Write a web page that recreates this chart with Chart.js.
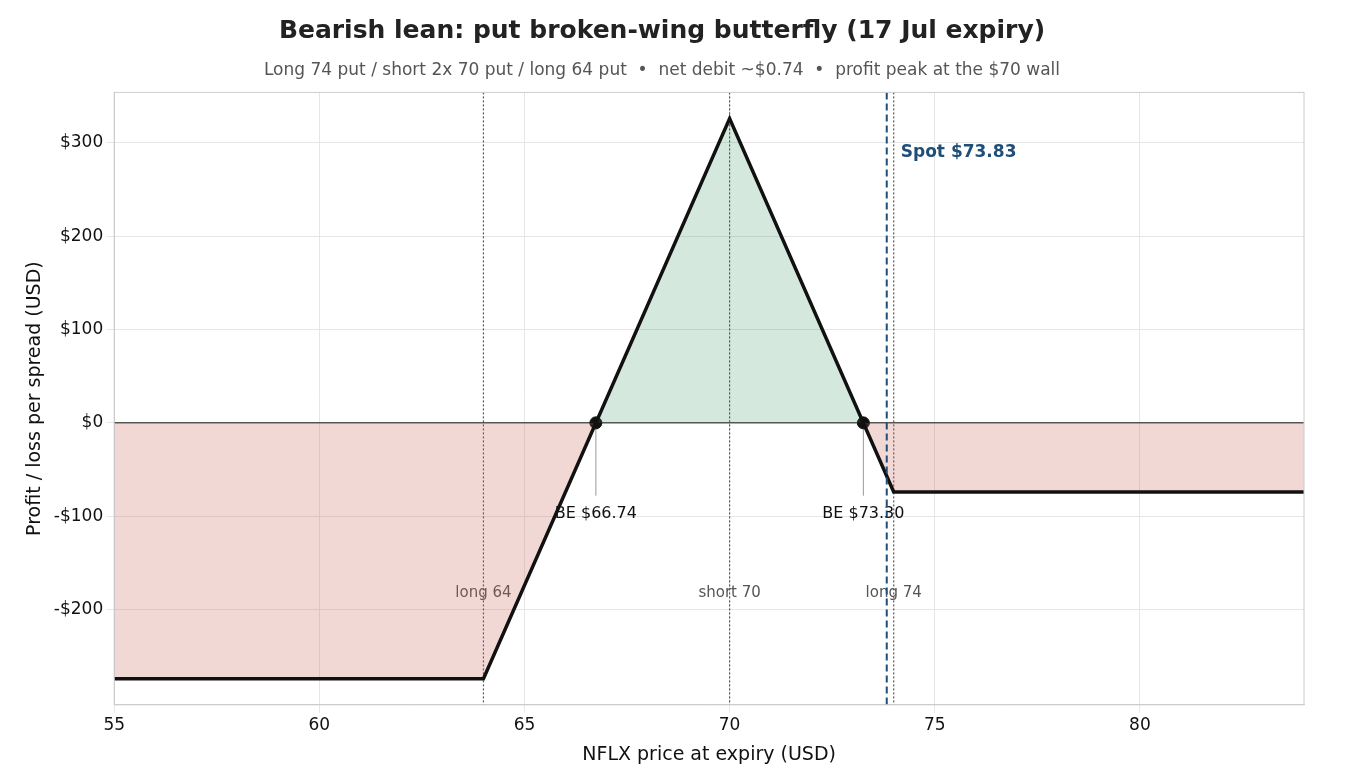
<!DOCTYPE html>
<html><head><meta charset="utf-8">
<script src="https://cdn.jsdelivr.net/npm/chart.js@4/dist/chart.umd.min.js"></script>
<style>html,body{margin:0;background:#fff}</style>
</head><body><canvas id="c" width="1350" height="780" style="width:1350px;height:780px;display:block"></canvas>
<script>
const priceX = [55, 64, 70, 74, 84];
const pnl = [-274, -274, 326, -74, -74];
const breakevenX = [66.74, 73.26];
const breakevenLabels = ["BE $66.74", "BE $73.30"];
const strikes = [64, 70, 74];
const strikeLabels = ["long 64", "short 70", "long 74"];
const spot = 73.83;
const F = "'DejaVu Sans', sans-serif";

const overlay = {
  id: 'overlay',
  beforeDatasetsDraw(ch) {
    const {ctx, scales: {x, y}, chartArea: a} = ch;
    ctx.save();
    ctx.strokeStyle = '#555'; ctx.lineWidth = 1.5;
    ctx.beginPath(); ctx.moveTo(a.left, y.getPixelForValue(0)); ctx.lineTo(a.right, y.getPixelForValue(0)); ctx.stroke();
    ctx.strokeStyle = '#555'; ctx.lineWidth = 1.2; ctx.setLineDash([2, 2]);
    strikes.forEach(s => { const px = x.getPixelForValue(s); ctx.beginPath(); ctx.moveTo(px, a.top); ctx.lineTo(px, a.bottom); ctx.stroke(); });
    ctx.setLineDash([]);
    ctx.font = '15px ' + F; ctx.fillStyle = '#555'; ctx.textAlign = 'center'; ctx.textBaseline = 'middle';
    strikes.forEach((s, i) => ctx.fillText(strikeLabels[i], x.getPixelForValue(s), y.getPixelForValue(-182)));
    ctx.strokeStyle = '#999'; ctx.lineWidth = 1;
    breakevenX.forEach(b => { const px = x.getPixelForValue(b); ctx.beginPath(); ctx.moveTo(px, y.getPixelForValue(0)); ctx.lineTo(px, y.getPixelForValue(-78)); ctx.stroke(); });
    ctx.restore();
  },
  afterDatasetsDraw(ch) {
    const {ctx, scales: {x, y}, chartArea: a} = ch;
    ctx.save();
    const sp = x.getPixelForValue(spot);
    ctx.strokeStyle = '#1f4e79'; ctx.lineWidth = 2; ctx.setLineDash([7, 4]);
    ctx.beginPath(); ctx.moveTo(sp, a.top); ctx.lineTo(sp, a.bottom); ctx.stroke();
    ctx.setLineDash([]);
    ctx.font = 'bold 17px ' + F; ctx.fillStyle = '#1f4e79'; ctx.textAlign = 'left'; ctx.textBaseline = 'middle';
    ctx.fillText('Spot $' + spot.toFixed(2), sp + 14, y.getPixelForValue(290));
    ctx.font = '16px ' + F; ctx.fillStyle = '#111'; ctx.textAlign = 'center';
    breakevenX.forEach((b, i) => ctx.fillText(breakevenLabels[i], x.getPixelForValue(b), y.getPixelForValue(-97)));
    ctx.strokeStyle = '#ccc'; ctx.lineWidth = 1;
    ctx.strokeRect(a.left, a.top, a.right - a.left, a.bottom - a.top);
    ctx.restore();
  }
};

new Chart(document.getElementById('c'), {
  type: 'scatter',
  data: { datasets: [
    { type: 'line', data: priceX.map((v, i) => ({x: v, y: pnl[i]})), borderColor: '#111', borderWidth: 3.5, pointRadius: 0,
      fill: {target: 'origin', above: 'rgba(46,139,87,0.2)', below: 'rgba(200,100,85,0.25)'} },
    { data: breakevenX.map(v => ({x: v, y: 0})), pointRadius: 6, backgroundColor: '#111', borderColor: '#111' }
  ]},
  options: {
    responsive: false, animation: false, devicePixelRatio: 1,
    layout: { padding: {left: 20, right: 46, top: 0, bottom: 10} },
    plugins: {
      legend: {display: false}, tooltip: {enabled: false},
      title: { display: true, text: 'Bearish lean: put broken-wing butterfly (17 Jul expiry)', color: '#222', font: {family: F, size: 25, weight: 'bold'}, padding: {top: 16, bottom: 14} },
      subtitle: { display: true, text: 'Long 74 put / short 2x 70 put / long 64 put  •  net debit ~$0.74  •  profit peak at the $70 wall', color: '#555', font: {family: F, size: 17}, padding: {bottom: 12} }
    },
    scales: {
      x: { min: 55, max: 84, ticks: {stepSize: 5, color: '#111', font: {family: F, size: 17}},
        afterBuildTicks: s => { s.ticks = s.ticks.filter(t => t.value % 5 === 0); },
        grid: {color: '#e6e6e6'}, border: {color: '#ccc'},
        title: {display: true, text: 'NFLX price at expiry (USD)', color: '#111', font: {family: F, size: 19}} },
      y: { min: -302, max: 354, ticks: {stepSize: 100, color: '#111', font: {family: F, size: 17},
          callback: v => (v < 0 ? '-$' : '$') + Math.abs(v)},
        afterBuildTicks: s => { s.ticks = s.ticks.filter(t => t.value % 100 === 0); },
        grid: {color: '#e6e6e6'}, border: {color: '#ccc'},
        title: {display: true, text: 'Profit / loss per spread (USD)', color: '#111', font: {family: F, size: 19}} }
    }
  },
  plugins: [overlay]
});
</script>
</body></html>
